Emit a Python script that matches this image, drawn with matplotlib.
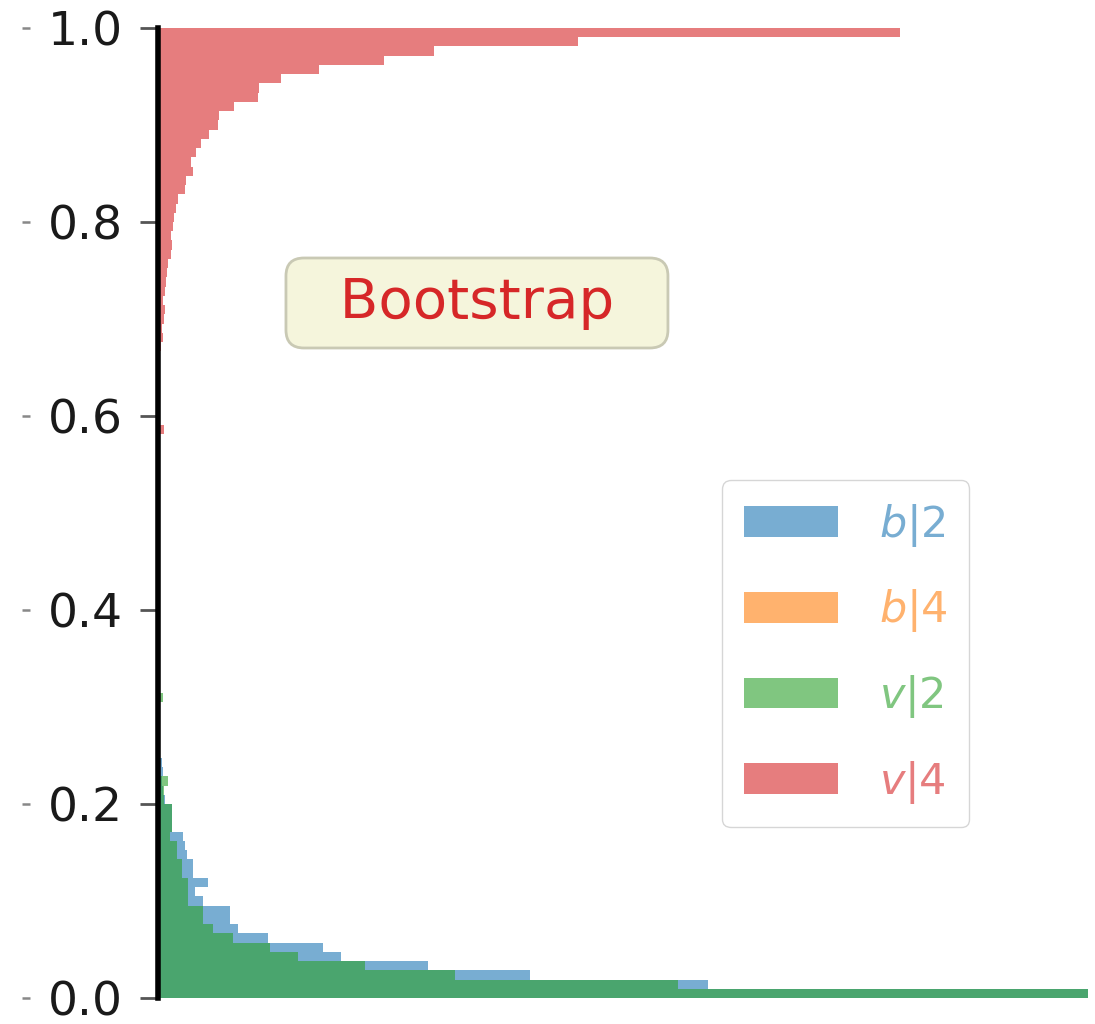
import numpy as np
import matplotlib
matplotlib.use("Agg")
import matplotlib.pyplot as plt

# common bins on [0, 1]
n_bins = 105
bin_edges = np.linspace(0, 1, n_bins + 1)
bin_mid = (bin_edges[:-1] + bin_edges[1:]) / 2

# counts per bin, listed from the bottom bin (0.0) upwards
b2_counts = [930, 550, 372, 270, 183, 165, 110, 80, 72, 72,
             45, 37, 50, 35, 35, 29, 27, 25, 14, 14,
             14, 7, 5, 4, 5, 4, 2] + [0] * 78
b4_counts = [0] * 105
v2_counts = [930, 520, 297, 207, 140, 112, 75, 55, 45, 45,
             30, 30, 30, 24, 24, 19, 19, 12, 14, 14,
             14, 6, 6, 10, 2, 0, 0, 0, 0, 0,
             0, 0, 5] + [0] * 72
v4_counts = [0] * 61 + [6, 2, 1, 2, 1, 1, 2, 1, 2, 3,
                        5, 4, 6, 7, 5, 7, 8, 9, 10, 13,
                        14, 13, 15, 16, 18, 20, 27, 28, 35, 33,
                        38, 43, 51, 60, 61, 76, 100, 101, 123, 161,
                        226, 276, 420, 742]

labels = ["$b|2$", "$b|4$", "$v|2$", "$v|4$"]
colors = ["tab:blue", "tab:orange", "tab:green", "tab:red"]
series = [b2_counts, b4_counts, v2_counts, v4_counts]
yticks = [0.0, 0.2, 0.4, 0.6, 0.8, 1.0]

fig = plt.figure(figsize=(10.95, 10.24), dpi=100)
ax = fig.add_axes([157.5 / 1095, 26 / 1024, 930 / 1095, 970 / 1024])

for counts, lab, col in zip(series, labels, colors):
    ax.hist(bin_mid, bins=bin_edges, weights=counts, orientation="horizontal",
            color=col, alpha=0.6, label=lab)

ax.set_ylim(0, 1)
ax.set_xlim(0, max(v2_counts))
ax.set_yticks(yticks)
ax.set_xticks([])

for side in ["top", "right", "bottom"]:
    ax.spines[side].set_visible(False)
ax.spines["left"].set_linewidth(4)
ax.spines["left"].set_color("black")
ax.spines["left"].set_zorder(5)
ax.tick_params(axis="y", length=13, width=2, color="#555555", pad=12,
               labelsize=34, labelcolor="#1a1a1a")

# small outer dashes left of the tick labels
sec = ax.secondary_yaxis(-0.137)
sec.set_yticks(yticks)
sec.tick_params(axis="y", length=6, width=1.8, color="#888888", labelleft=False)
sec.spines["left"].set_visible(False)

ax.text(0.3435, 0.7165, "  Bootstrap  ", transform=ax.transAxes,
        ha="center", va="center", fontsize=40.5, color="tab:red",
        bbox=dict(boxstyle="round,pad=0.32", facecolor="beige",
                  edgecolor="#c9c9b4", linewidth=2))

leg = ax.legend(loc="upper left", bbox_to_anchor=(0.607, 0.534),
                borderaxespad=0, fontsize=31, handlelength=2.2,
                handleheight=0.72, handletextpad=0.95, labelspacing=0.9,
                borderpad=0.5)
for txt, patch in zip(leg.get_texts(), leg.get_patches()):
    txt.set_color(patch.get_facecolor())

fig.savefig("out.png", dpi=100)
